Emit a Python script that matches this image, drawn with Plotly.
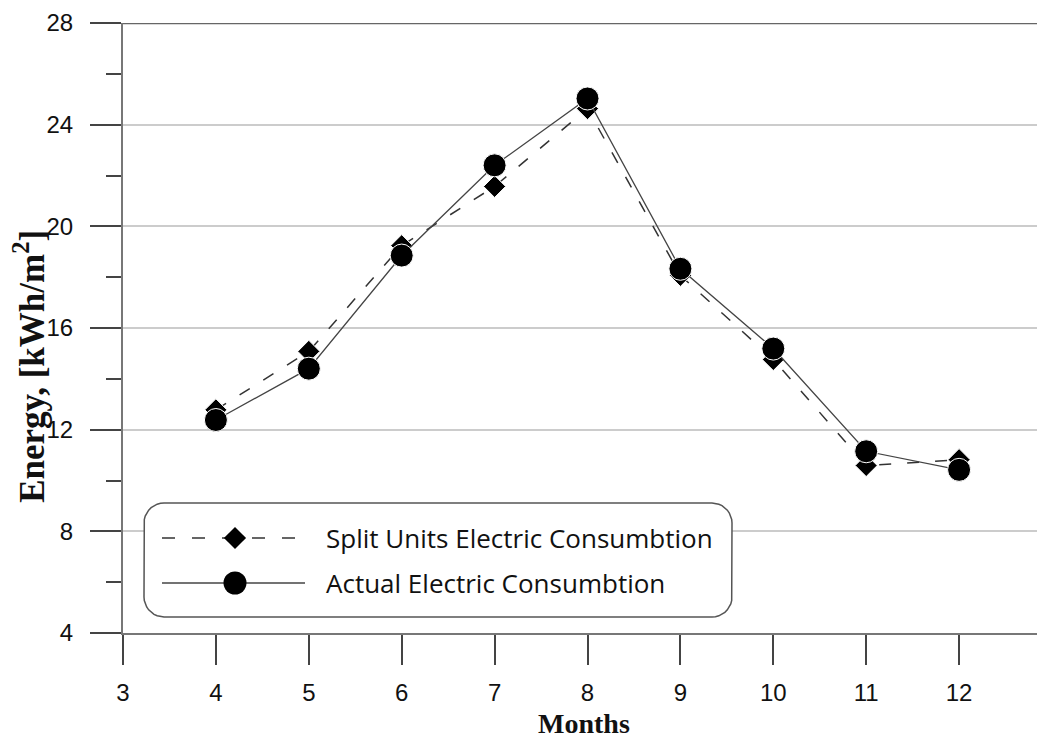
import numpy as np
import plotly.graph_objects as go

months = [4, 5, 6, 7, 8, 9, 10, 11, 12]
split_units = [12.78, 15.08, 19.24, 21.57, 24.63, 18.07, 14.76, 10.59, 10.82]
actual = [12.38, 14.40, 18.85, 22.40, 25.03, 18.33, 15.19, 11.15, 10.42]

x_ticks = [3, 4, 5, 6, 7, 8, 9, 10, 11, 12]
y_ticks = [4, 8, 12, 16, 20, 24, 28]
legend_labels = ["Split Units Electric Consumbtion", "Actual Electric Consumbtion"]

# page body adds an 8px offset, so the figure is 8px smaller
W, H = 1037, 732
L, R, T, B = 115, 0, 15, 107
plot_w = W - L - R
px_per_month = 92.9
x_max = 3 + plot_w / px_per_month

fig = go.Figure()

# legend frame (overlay axes in screen-like pixel units)
lx0, lx1, ly0, ly1, rad = 144, 732, 503, 617, 20
def corner(cx, cy, a0, a1):
    t = np.linspace(a0, a1, 10)
    return list(cx + rad * np.cos(t)), list(cy + rad * np.sin(t))
bx, by = [], []
for cx, cy, a0 in [(lx1 - rad, ly0 + rad, -np.pi / 2), (lx1 - rad, ly1 - rad, 0),
                   (lx0 + rad, ly1 - rad, np.pi / 2), (lx0 + rad, ly0 + rad, np.pi)]:
    xs, ys = corner(cx, cy, a0, a0 + np.pi / 2)
    bx += xs
    by += ys
bx.append(bx[0])
by.append(by[0])
fig.add_trace(go.Scatter(x=bx, y=by, mode="lines", fill="toself", fillcolor="white",
                         line=dict(color="#555555", width=1.5), xaxis="x2", yaxis="y2",
                         showlegend=False, hoverinfo="skip"))

fig.add_trace(go.Scatter(
    x=months, y=split_units, mode="lines+markers", name=legend_labels[0],
    line=dict(color="#333333", width=1.5, dash="12px,16px"),
    marker=dict(symbol="diamond", size=17, color="black", line=dict(color="white", width=1)),
    showlegend=False))
fig.add_trace(go.Scatter(
    x=months, y=actual, mode="lines+markers", name=legend_labels[1],
    line=dict(color="#444444", width=1.3),
    marker=dict(symbol="circle", size=23, color="black", line=dict(color="white", width=1)),
    showlegend=False))

rows_y = [538, 583]
fig.add_trace(go.Scatter(x=[162, 297], y=[rows_y[0]] * 2, mode="lines", xaxis="x2", yaxis="y2",
                         line=dict(color="#333333", width=1.5, dash="13px,17px"), showlegend=False, hoverinfo="skip"))
fig.add_trace(go.Scatter(x=[235], y=[rows_y[0]], mode="markers", xaxis="x2", yaxis="y2",
                         marker=dict(symbol="diamond", size=17, color="black"), showlegend=False, hoverinfo="skip"))
fig.add_trace(go.Scatter(x=[162, 305], y=[rows_y[1]] * 2, mode="lines", xaxis="x2", yaxis="y2",
                         line=dict(color="#444444", width=1.3), showlegend=False, hoverinfo="skip"))
fig.add_trace(go.Scatter(x=[235], y=[rows_y[1]], mode="markers", xaxis="x2", yaxis="y2",
                         marker=dict(symbol="circle", size=23, color="black"), showlegend=False, hoverinfo="skip"))

for lab, yy in zip(legend_labels, rows_y):
    fig.add_annotation(x=324, y=yy, xref="x2", yref="y2", text=lab, showarrow=False,
                       xanchor="left", yanchor="middle",
                       font=dict(family="Open Sans", size=26, color="#111111"))

# top border line at y=28
fig.add_shape(type="line", xref="paper", yref="y", x0=0, x1=1, y0=28, y1=28,
              line=dict(color="#666666", width=2.5), layer="above")

fig.add_annotation(x=-0.1009, y=0.438, xref="paper", yref="paper",
                   text="<b>Energy, [kWh/m<sup>2</sup>]</b>",
                   showarrow=False, textangle=-90, xanchor="center", yanchor="middle",
                   font=dict(family="Liberation Serif", size=35, color="#111111"))
fig.add_annotation(x=0.5, y=-0.149, xref="paper", yref="paper", text="<b>Months</b>",
                   showarrow=False, xanchor="center", yanchor="middle",
                   font=dict(family="Liberation Serif", size=28, color="#111111"))

fig.update_layout(
    width=W, height=H, margin=dict(l=L, r=R, t=T, b=B),
    paper_bgcolor="white", plot_bgcolor="white",
    xaxis=dict(range=[3, x_max], tickvals=x_ticks, ticks="outside", ticklen=30, tickwidth=1.5,
               tickcolor="#444444", showgrid=False, zeroline=False, showline=True,
               linecolor="#777777", linewidth=2, ticklabelstandoff=7,
               tickfont=dict(family="Liberation Sans", size=24, color="#111111")),
    yaxis=dict(range=[4, 28], tickvals=y_ticks, ticks="outside", ticklen=31, tickwidth=1.5,
               tickcolor="#444444", showgrid=True, gridcolor="#cccccc", gridwidth=1.5,
               zeroline=False, showline=True, linecolor="#777777", linewidth=2,
               ticklabelstandoff=12,
               minor=dict(dtick=2, tick0=2, ticks="outside", ticklen=15, tickwidth=1.5,
                          tickcolor="#444444", showgrid=False),
               tickfont=dict(family="Liberation Sans", size=24, color="#111111")),
    xaxis2=dict(overlaying="x", range=[123, 1045], visible=False, fixedrange=True),
    yaxis2=dict(overlaying="y", range=[633, 23], visible=False, fixedrange=True),
)

fig.write_html("out.html")
